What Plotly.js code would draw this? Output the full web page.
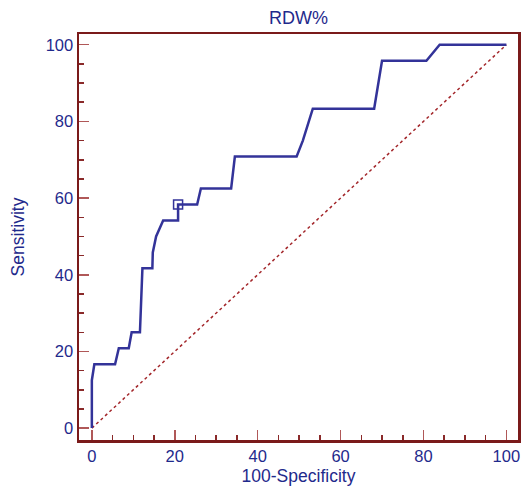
<!DOCTYPE html>
<html>
<head>
<meta charset="utf-8">
<script src="https://cdn.plot.ly/plotly-3.0.1.min.js"></script>
<style>html,body{margin:0;padding:0;background:#fff;}#chart{width:525px;height:491px;}</style>
</head>
<body>
<div id="chart"></div>
<script>
const fpr  = [0, 0, 0.6, 5.6, 6.5, 8.9, 9.6, 11.6, 12.2, 14.6, 14.7, 15.5, 17.2, 20.8, 20.8, 25.4, 26.3, 33.6, 34.5, 49.4, 50.9, 53.3, 68.1, 70.0, 80.7, 83.9, 100];
const sens = [0, 12.5, 16.67, 16.67, 20.83, 20.83, 25, 25, 41.67, 41.67, 45.83, 50, 54.17, 54.17, 58.33, 58.33, 62.5, 62.5, 70.83, 70.83, 75, 83.33, 83.33, 95.83, 95.83, 100, 100];
const critX = [20.8];
const critY = [58.33];
const diagX = [0, 100];
const diagY = [0, 100];
const tickVals = [0, 20, 40, 60, 80, 100];

const navy = '#1f2a8c';
const frame = '#7a1a1a';
const font = 'Liberation Sans, Arial, sans-serif';

const traces = [
  {x: diagX, y: diagY, mode: 'lines', line: {color: '#a3262a', width: 1.5, dash: 'dot'}, hoverinfo: 'skip'},
  {x: fpr, y: sens, mode: 'lines', line: {color: '#333399', width: 2.5}},
  {x: critX, y: critY, mode: 'markers', marker: {symbol: 'square-open', size: 9, color: '#333399', line: {width: 1.5}}}
];

function axis(title, standoff) {
  return {
    range: [-3.1, 102.8],
    tickvals: tickVals,
    ticks: 'inside',
    ticklen: 10,
    tickwidth: 1.5,
    tickcolor: '#b05858',
    minor: {dtick: 5, tick0: 0, ticks: 'inside', ticklen: 5, tickwidth: 1.5, tickcolor: '#8a2a2a', showgrid: false},
    showline: true,
    linecolor: frame,
    linewidth: 2.5,
    mirror: true,
    showgrid: false,
    zeroline: false,
    tickfont: {family: font, size: 16.5, color: navy},
    title: {text: title, font: {family: font, size: 17.5, color: navy}, standoff: standoff}
  };
}

const layout = {
  width: 525, height: 491,
  margin: {l: 79, r: 7, t: 34, b: 51},
  paper_bgcolor: '#fff', plot_bgcolor: '#fff',
  showlegend: false,
  title: {text: 'RDW%', font: {family: font, size: 18, color: navy}, x: 0.5, xref: 'paper', y: 0.963, yref: 'container', yanchor: 'middle'},
  xaxis: axis('100-Specificity', 6),
  yaxis: axis('Sensitivity', 17)
};

Plotly.newPlot('chart', traces, layout, {staticPlot: true});
</script>
</body>
</html>
